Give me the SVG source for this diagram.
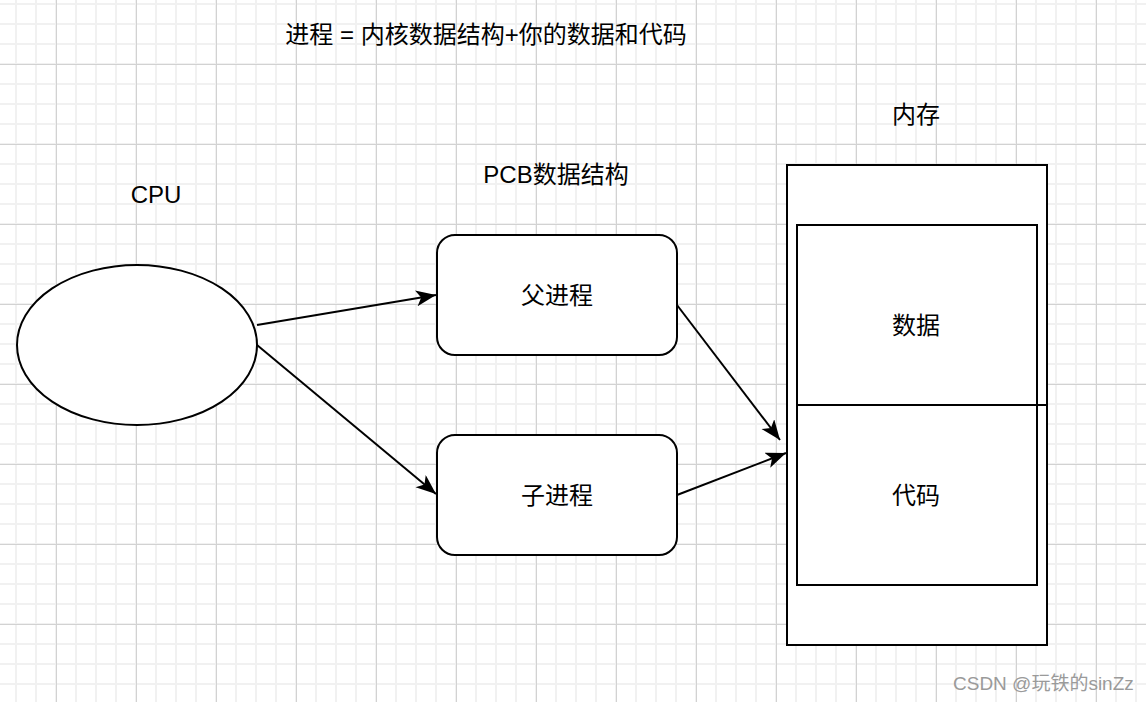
<svg xmlns="http://www.w3.org/2000/svg" width="1146" height="702" viewBox="0 0 1146 702">
<style>
.shape{fill:#ffffff;stroke:#000000;stroke-width:2}
.edge{fill:none;stroke:#000000;stroke-width:2}
.lbl{font-family:"Liberation Sans","Noto Sans CJK SC",sans-serif;font-size:24px;fill:#000000;text-anchor:middle;dominant-baseline:central}
.wm{font-family:"Liberation Sans","Noto Sans CJK SC",sans-serif;font-size:19px;fill:#9a9a9a}
</style>
<defs>
<pattern id="minor" patternUnits="userSpaceOnUse" x="15" y="3" width="20" height="20">
<path d="M1 0 V20 M0 1 H20" stroke="#f1f1f1" stroke-width="2" fill="none"/>
</pattern>
<pattern id="major" patternUnits="userSpaceOnUse" x="56" y="64" width="80" height="80">
<path d="M0.5 0 V80 M0 0.5 H80" stroke="#d2d2d2" stroke-width="1" fill="none"/>
</pattern>
<marker id="arr" markerUnits="userSpaceOnUse" markerWidth="22" markerHeight="18" refX="20" refY="8" orient="auto">
<path d="M0 0 L20 8 L0 16 L5 8 Z" fill="#000000"/>
</marker>
</defs>
<rect width="1146" height="702" fill="#ffffff"/>
<rect width="1146" height="702" fill="url(#minor)"/>
<rect width="1146" height="702" fill="url(#major)"/>

<text class="lbl" x="486" y="34">进程 = 内核数据结构+你的数据和代码</text>
<text class="lbl" x="156" y="194">CPU</text>
<text class="lbl" x="556" y="174">PCB数据结构</text>
<text class="lbl" x="916" y="114">内存</text>

<g id="cpu">
<ellipse class="shape" cx="137" cy="345" rx="120" ry="80"/>
</g>
<g id="parent">
<rect class="shape" x="437" y="235" width="240" height="120" rx="18"/>
<text class="lbl" x="557" y="295">父进程</text>
</g>
<g id="child">
<rect class="shape" x="437" y="435" width="240" height="120" rx="18"/>
<text class="lbl" x="557" y="495">子进程</text>
</g>
<g id="memory">
<rect class="shape" x="787" y="165" width="260" height="480"/>
</g>
<g id="data">
<rect class="shape" x="797" y="225" width="240" height="180"/>
<text class="lbl" x="916" y="325">数据</text>
</g>
<g id="code">
<rect class="shape" x="797" y="405" width="240" height="180"/>
<text class="lbl" x="916" y="495">代码</text>
<line class="edge" x1="797" y1="405" x2="1047" y2="405"/>
</g>

<g id="connectors">
<line class="edge" x1="257" y1="325" x2="436" y2="295" marker-end="url(#arr)"/>
<line class="edge" x1="257" y1="345" x2="436" y2="494" marker-end="url(#arr)"/>
<line class="edge" x1="677" y1="305" x2="780" y2="440" marker-end="url(#arr)"/>
<line class="edge" x1="677" y1="495" x2="786" y2="453" marker-end="url(#arr)"/>
</g>

<text class="wm" x="953" y="690">CSDN @玩铁的sinZz</text>
</svg>
